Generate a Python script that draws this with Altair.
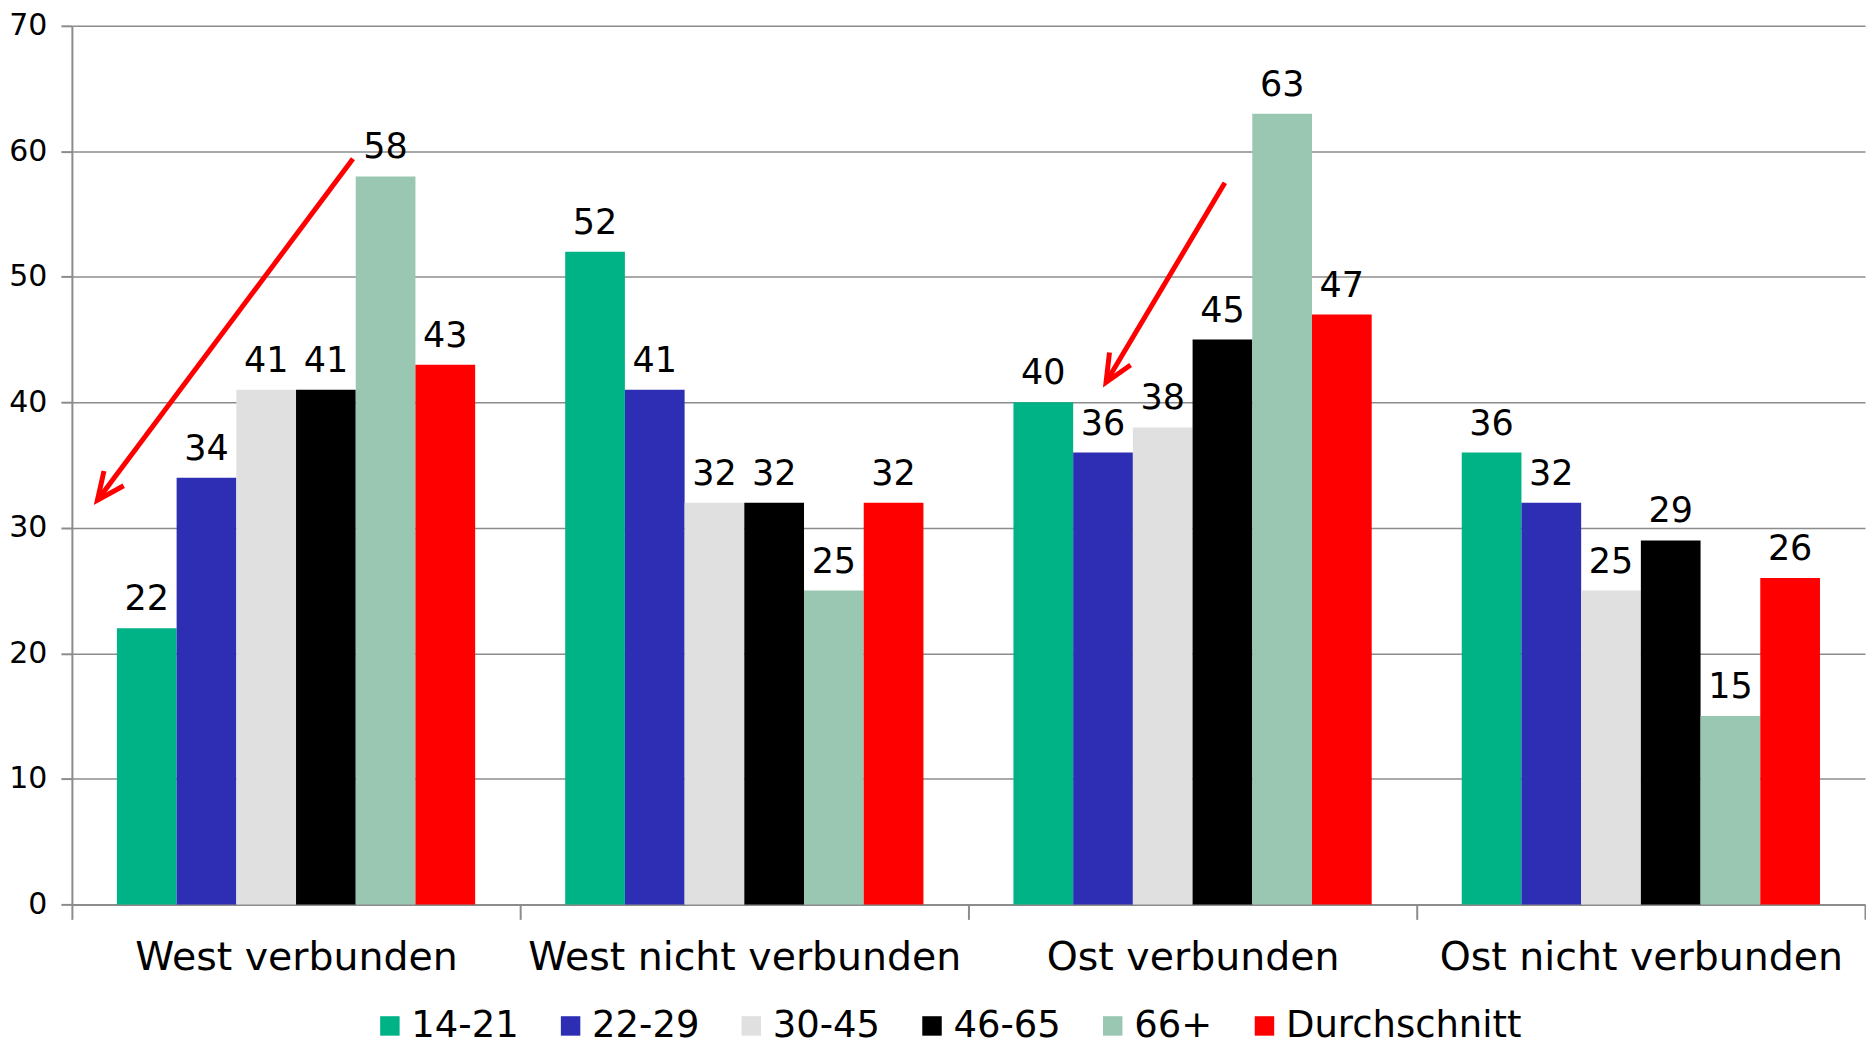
import math
import altair as alt
import pandas as pd

# ---- data ----
groups = ["West verbunden", "West nicht verbunden", "Ost verbunden", "Ost nicht verbunden"]
series = ["14-21", "22-29", "30-45", "46-65", "66+", "Durchschnitt"]
colors = ["#00B386", "#2E2EB4", "#E0E0E0", "#000000", "#99C7B2", "#FF0000"]
v_west_verbunden = [22, 34, 41, 41, 58, 43]
v_west_nicht = [52, 41, 32, 32, 25, 32]
v_ost_verbunden = [40, 36, 38, 45, 63, 47]
v_ost_nicht = [36, 32, 25, 29, 15, 26]
y_ticks = [0, 10, 20, 30, 40, 50, 60, 70]

# annotation arrows, in group units (0..4 across the x axis) and value units
arrow_x_start = [0.627, 2.572]
arrow_y_start = [59.4, 57.5]
arrow_x_end = [0.057, 2.307]
arrow_y_end = [32.2, 41.6]

W, H = 1796, 880
FONT = "DejaVu Sans"
GRID = "#8c8c8c"

rows = []
for g, vals in zip(groups, [v_west_verbunden, v_west_nicht, v_ost_verbunden, v_ost_nicht]):
    for s, v in zip(series, vals):
        rows.append({"gruppe": g, "alter": s, "wert": v})
df = pd.DataFrame(rows)

angles = []
for xs, ys, xe, ye in zip(arrow_x_start, arrow_y_start, arrow_x_end, arrow_y_end):
    dx = (xs - xe) * W / 4
    dy = (ys - ye) * H / 70
    angles.append(math.degrees(math.atan2(dx, dy)))
arrows = pd.DataFrame({"xs": arrow_x_start, "ys": arrow_y_start,
                       "xe": arrow_x_end, "ye": arrow_y_end, "ang": angles})

y_scale = alt.Scale(domain=[0, 70], nice=False)
y_axis = alt.Axis(title=None, values=y_ticks, labelFontSize=30, labelFont=FONT,
                  labelColor="black", tickSize=11, tickColor=GRID, tickWidth=2,
                  domainColor=GRID, domainWidth=2, labelPadding=14,
                  gridColor=GRID, gridWidth=1.5)

x_enc = alt.X("gruppe:N", sort=groups,
              scale=alt.Scale(domain=groups, paddingInner=0, paddingOuter=0),
              axis=alt.Axis(title=None, labelAngle=0, labelFontSize=39.5, labelFont=FONT,
                            labelColor="black", tickBand="extent", tickSize=15,
                            tickColor=GRID, tickWidth=2, domainColor=GRID, domainWidth=2,
                            labelPadding=19, grid=False, labelLimit=0,
                            labelOverlap=False))
xo_enc = alt.XOffset("alter:N", sort=series,
                     scale=alt.Scale(domain=series, paddingInner=0, paddingOuter=0.754))
y_enc = alt.Y("wert:Q", scale=y_scale, axis=y_axis)

base = alt.Chart(df).encode(x=x_enc, xOffset=xo_enc, y=y_enc)

bars = base.mark_bar().encode(
    color=alt.Color("alter:N", sort=series,
                    scale=alt.Scale(domain=series, range=colors),
                    legend=alt.Legend(orient="none", legendX=300, legendY=983,
                                      direction="horizontal", title=None,
                                      symbolType="square", symbolSize=380,
                                      symbolStrokeWidth=0, labelFontSize=37,
                                      labelFont=FONT, labelColor="black",
                                      columnPadding=33, labelOffset=3, labelLimit=0))
)
labels = base.mark_text(dy=-18, baseline="alphabetic", fontSize=35, font=FONT,
                        color="black").encode(text="wert:Q")
bar_layer = alt.layer(bars, labels)

x_arrow_scale = alt.Scale(domain=[0, 4], nice=False, zero=False)
arrow_lines = alt.Chart(arrows).mark_rule(color="#FF0000", strokeWidth=5).encode(
    x=alt.X("xs:Q", scale=x_arrow_scale, axis=None), x2="xe:Q",
    y=alt.Y("ys:Q", scale=y_scale, axis=y_axis), y2="ye:Q")
arrow_heads = alt.Chart(arrows).mark_point(
    shape="M-0.45,-1L0,0L0.45,-1", filled=False, color="#FF0000",
    strokeWidth=5, size=3000, opacity=1).encode(
    x=alt.X("xe:Q", scale=x_arrow_scale, axis=None),
    y=alt.Y("ye:Q", scale=y_scale, axis=y_axis),
    angle=alt.Angle("ang:Q", scale=None))
arrow_layer = alt.layer(arrow_lines, arrow_heads)

chart = alt.layer(bar_layer, arrow_layer).resolve_scale(
    x="independent"
).properties(width=W, height=H,
             padding={"top": 2, "left": 0, "right": 0, "bottom": 0}
).configure_view(stroke=None)

chart.save("out.html", embed_options={"renderer": "svg", "actions": False})
